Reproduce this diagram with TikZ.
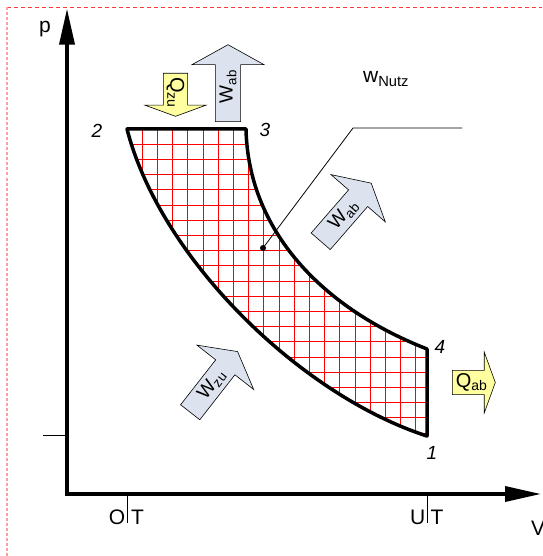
\documentclass[tikz,border=0pt]{standalone}
\usepackage{fontspec}
\setmainfont{Liberation Sans}
\usetikzlibrary{arrows.meta, positioning, shapes.arrows}
\definecolor{hatch}    {HTML}{FF0000}
\definecolor{heatfill} {HTML}{FFFFA0}
\definecolor{workfill} {HTML}{DCE3EE}
\definecolor{frameline}{HTML}{FF3B3B}
\definecolor{framepale}{HTML}{FFA0A0}

\tikzset{
  axisline/.style={line width=3.5pt, line join=miter},
  cycleline/.style={line width=3.5pt, line join=round},
  gridline/.style={hatch, line width=0.8pt},
  txt/.style={font=\fontsize{21}{24}\selectfont, inner sep=0pt},
  ptnum/.style={font=\fontsize{19}{22}\selectfont\itshape, inner sep=0pt},
  bigarrow/.style={single arrow, draw, line width=0.6pt, fill=workfill,
    minimum height=77pt, minimum width=72pt, single arrow head extend=18pt,
    single arrow tip angle=122, inner sep=1pt, anchor=tail,
    font=\fontsize{19}{22}\selectfont},
  smallarrow/.style={single arrow, draw, line width=0.6pt, fill=heatfill,
    minimum height=43pt, minimum width=61pt, single arrow head extend=15.5pt,
    single arrow tip angle=140, inner sep=1pt, anchor=tail,
    font=\fontsize{20}{22}\selectfont},
}

\begin{document}
\begin{tikzpicture}[x=1pt, y=-1pt]
  \useasboundingbox (0,0) rectangle (542,556);

  % frame
  \draw[frameline, line width=0.8pt, dash pattern=on 4pt off 3pt] (7,7.5) -- (542,7.5);
  \draw[framepale, line width=1.6pt, dash pattern=on 3pt off 2pt] (7,7.5) -- (7,556);

  % axes
  \coordinate (orig) at (67,494);
  \coordinate (ptip) at (67,8.6);
  \coordinate (vtip) at (541,494);
  \draw[axisline, {Triangle[length=36pt,width=15pt]}-{Triangle[length=36pt,width=15pt]}]
    (ptip) -- (orig) -- (vtip);
  \node[txt] (plabel) at (45,29) {p};
  \node[txt] (vlabel) at (538,528) {V};

  \coordinate (ptick) at (67,435);
  \draw[line width=0.8pt] (ptick) -- ++(-24,0);

  % dead centres
  \coordinate (ot) at (127,494);
  \coordinate (ut) at (427,494);
  \draw[line width=0.6pt] (ot) -- ++(0,29);
  \draw[line width=0.6pt] (ut) -- ++(0,29);
  \node[txt, anchor=base east, inner sep=1.5pt] (ot-o) at (127,524) {O};
  \node[txt, anchor=base west, inner sep=4pt] (ot-t) at (127,524) {T};
  \node[txt, anchor=base east, inner sep=1.5pt] (ut-u) at (427,524) {U};
  \node[txt, anchor=base west, inner sep=3.5pt] (ut-t) at (427,524) {T};

  % cycle points
  \coordinate (p2) at (127,129);
  \coordinate (p3) at (246,129);
  \coordinate (p4) at (427,349);
  \coordinate (p1) at (427,436);

  \begin{scope}
    \clip (p2) -- (p3) .. controls (248,225) and (315,305) .. (p4) -- (p1)
      .. controls (300,395) and (160,258) .. (p2) -- cycle;
    \foreach \k in {1,...,20} {
      \draw[gridline] ({127+15.2*\k},120) -- ++(0,330);
      \draw[gridline] (120,{129+15.2*\k}) -- ++(320,0);
    }
  \end{scope}
  \draw[cycleline] (p2) -- (p3) .. controls (248,225) and (315,305) .. (p4) -- (p1)
    .. controls (300,395) and (160,258) .. (p2) -- cycle;

  \node[ptnum] (n2) at (97,131) {2};
  \node[ptnum] (n3) at (265,130) {3};
  \node[ptnum] (n4) at (440,347) {4};
  \node[ptnum] (n1) at (432,453) {1};

  % useful work
  \node[circle, fill, inner sep=0pt, minimum size=6pt] (dot) at (263,248) {};
  \coordinate (bend) at (353,128);
  \coordinate (lend) at (462,128);
  \draw[line width=0.8pt] (dot.center) -- (bend) -- (lend);
  \node[txt, anchor=base west] (wnutz) at (363,83) {w\textsubscript{Nutz}};

  % heat and work arrows
  \node[smallarrow, rotate=-90] (qzu) at (175.5,73) {Q\textsubscript{zu}};
  \node[bigarrow, rotate=90] (wab) at (228,122) {W\textsubscript{ab}};
  \node[bigarrow, rotate=49] (wexp) at (320.5,241.5) {W\textsubscript{ab}};
  \node[bigarrow, rotate=52] (wzu) at (190,412.5) {W\textsubscript{zu}};
  \node[smallarrow] (qab) at (452,382.5) {Q\textsubscript{ab}};
\end{tikzpicture}
\end{document}
